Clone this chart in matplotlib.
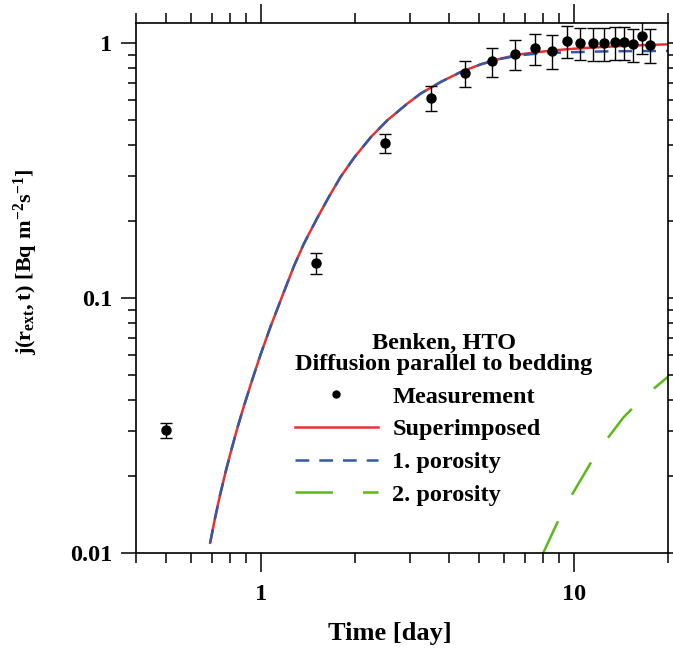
import numpy as np
import matplotlib
matplotlib.use("Agg")
import matplotlib.pyplot as plt
from matplotlib.lines import Line2D
from matplotlib.ticker import FixedLocator, FuncFormatter, NullFormatter

plt.rcParams['font.family'] = ['Liberation Serif', 'DejaVu Serif']
plt.rcParams['font.weight'] = 'bold'
plt.rcParams['mathtext.fontset'] = 'custom'
plt.rcParams['mathtext.rm'] = 'Liberation Serif:bold'
plt.rcParams['mathtext.bf'] = 'Liberation Serif:bold'
plt.rcParams['mathtext.it'] = 'Liberation Serif:bold'

# measurements
t_meas = [0.5, 1.5, 2.5, 3.5, 4.5, 5.5, 6.5, 7.5, 8.5, 9.5, 10.5, 11.5, 12.5, 13.5, 14.5, 15.5, 16.5, 17.5]
j_meas = [0.0303, 0.137, 0.405, 0.61, 0.765, 0.85, 0.905, 0.955, 0.935, 1.02, 1.005, 1.0, 1.0, 1.01, 1.01, 0.99, 1.065, 0.985]
j_err = [0.002, 0.013, 0.035, 0.07, 0.09, 0.11, 0.12, 0.135, 0.14, 0.145, 0.145, 0.145, 0.145, 0.15, 0.15, 0.15, 0.16, 0.15]

# model curves
t_model = [0.690, 0.716, 0.743, 0.776, 0.810, 0.844, 0.882, 0.938, 0.998, 1.074, 1.171, 1.276,
           1.373, 1.516, 1.652, 1.801, 1.987, 2.252, 2.542, 2.944, 3.247, 3.764, 4.366, 5.058,
           5.864, 6.79, 7.5, 8.5, 9.6, 11.0, 12.3, 14.0, 15.7, 17.8, 20.0]
j_sup = [0.01097, 0.0138, 0.0170, 0.0212, 0.0259, 0.0311, 0.0373, 0.0474, 0.0597, 0.0769,
         0.1014, 0.133, 0.163, 0.206, 0.2495, 0.299, 0.355, 0.429, 0.499, 0.580, 0.635,
         0.705, 0.772, 0.827, 0.871, 0.905, 0.92, 0.935, 0.948, 0.958, 0.966, 0.974, 0.98, 0.985, 0.99]
j_p1 = [0.01097, 0.0138, 0.0170, 0.0212, 0.0259, 0.0311, 0.0373, 0.0474, 0.0597, 0.0769,
        0.1014, 0.133, 0.163, 0.206, 0.2495, 0.299, 0.355, 0.429, 0.499, 0.580, 0.635,
        0.705, 0.772, 0.827, 0.869, 0.898, 0.908, 0.916, 0.921, 0.925, 0.928, 0.93, 0.931, 0.932, 0.933]

# 2. porosity
t_p2 = [7.93, 8.61, 9.4, 11.48, 12.8, 14.4, 16.6, 20.1]
j_p2 = [0.0098, 0.0122, 0.0153, 0.0232, 0.0281, 0.034, 0.0406, 0.0494]

fig = plt.figure(figsize=(6.73, 6.5), dpi=100)
ax = fig.add_axes([0.2021, 0.1492, 0.7905, 0.8154])

l_sup, = ax.plot(t_model, j_sup, color='#e8312f', lw=1.8)
l_p1, = ax.plot(t_model, j_p1, color='#2f5aa8', lw=1.8, ls=(0, (5.5, 4)))
l_p2, = ax.plot(t_p2, j_p2, color='#5cb814', lw=1.8, ls=(0, (15, 12)))
ax.errorbar(t_meas, j_meas, yerr=j_err, fmt='o', color='black', ecolor='black',
            ms=6.5, capsize=4, elinewidth=1, capthick=1, zorder=5)

ax.set_xscale('log')
ax.set_yscale('log')
ax.set_xlim(0.4, 20)
ax.set_ylim(0.01, 1.2)

ax.xaxis.set_major_locator(FixedLocator([1, 10]))
ax.yaxis.set_major_locator(FixedLocator([0.01, 0.1, 1]))
fmt = FuncFormatter(lambda v, p: '%g' % v)
ax.xaxis.set_major_formatter(fmt)
ax.yaxis.set_major_formatter(fmt)
ax.xaxis.set_minor_formatter(NullFormatter())
ax.yaxis.set_minor_formatter(NullFormatter())

ax.tick_params(which='both', direction='out', top=True, right=True, width=1.1, labelsize=17.5)
ax.tick_params(axis='x', which='major', length=14, pad=8)
ax.tick_params(axis='x', which='minor', length=7)
ax.tick_params(axis='y', which='major', length=11, pad=6)
ax.tick_params(axis='y', which='minor', length=5.5)
for s in ax.spines.values():
    s.set_linewidth(1.2)

ax.set_xlabel('Time [day]', fontsize=19, fontweight='bold')
ax.xaxis.set_label_coords(0.477, -0.13)
ax.set_ylabel(r'$\mathbf{j(r_{ext},t)\ [Bq\ m^{-2}s^{-1}]}$', fontsize=16)
ax.yaxis.set_label_coords(-0.18, 0.55)

meas_handle = Line2D([], [], marker='o', ms=5, color='black', ls='none')
leg = ax.legend([meas_handle, l_sup, l_p1, l_p2],
                ['Measurement', 'Superimposed', '1. porosity', '2. porosity'],
                title='Benken, HTO\nDiffusion parallel to bedding',
                loc='upper left', bbox_to_anchor=(0.299, 0.415), frameon=False,
                fontsize=17.5, title_fontproperties={'size': 17.5, 'weight': 'bold'},
                handlelength=3.4, handletextpad=0.6, labelspacing=0.44, borderpad=0,
                borderaxespad=0, alignment='left')
leg.get_title().set_multialignment('center')
leg.get_title().set_linespacing(1.0)

fig.savefig('out.png', dpi=100)
